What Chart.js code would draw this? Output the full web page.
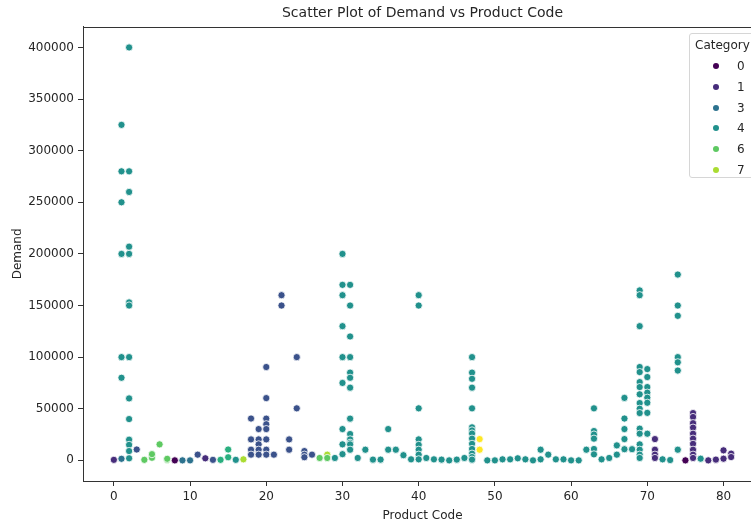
<!DOCTYPE html>
<html><head><meta charset="utf-8">
<script src="https://cdn.jsdelivr.net/npm/chart.js@4"></script>
<style>
html,body{margin:0;padding:0;background:#fff;overflow:hidden;}
#wrap{position:relative;width:751px;height:527px;overflow:hidden;}
#c{position:absolute;left:0;top:0;}
#legend{position:absolute;left:689px;top:33px;width:90px;height:143px;border:1px solid #d6d6d6;border-radius:3px;background:rgba(255,255,255,0.85);font-family:"DejaVu Sans";font-size:12px;color:#262626;}
#legend .t{position:absolute;left:5px;top:4px;line-height:14px;white-space:nowrap;}
#legend .it{position:absolute;left:0;height:14px;line-height:14px;width:90px;}
#legend .d{position:absolute;left:23px;top:4px;width:6px;height:6px;border-radius:50%;}
#legend .l{position:absolute;left:47px;top:0;}
</style></head>
<body>
<div id="wrap"><canvas id="c" width="845" height="527"></canvas><div id="legend"></div></div>
<script>
const productCode = [
0,
1,1,1,1,1,1,1,
2,2,2,2,2,2,2,2,2,2,2,2,2,2,
3,4,5,5,6,7,7,8,9,10,11,12,13,14,15,15,16,17,
18,18,18,18,
19,19,19,19,19,
20,20,20,20,20,20,20,20,
21,22,22,23,23,24,24,25,25,25,26,27,28,28,29,
30,30,30,30,30,30,30,30,30,
31,31,31,31,31,31,31,31,31,31,31,31,31,
32,33,34,35,36,36,37,38,39,
40,40,40,40,40,40,40,40,
41,42,43,44,45,46,
47,47,47,47,47,47,47,47,47,47,47,47,47,47,
48,48,49,50,51,52,53,54,55,56,56,57,58,59,60,61,62,
63,63,63,63,63,63,
64,65,66,66,
67,67,67,67,67,
68,
69,69,69,69,69,69,69,69,69,69,69,69,69,69,69,69,69,
70,70,70,70,70,70,70,70,
71,71,71,71,
72,73,
74,74,74,74,74,74,74,
75,
76,76,76,76,76,76,76,76,76,76,
77,78,79,80,80,81,81
];
const demand = [
500,
325000,280000,250000,200000,100000,80000,1500,
400000,280000,260000,207000,200000,153000,150000,100000,60000,40000,20000,15000,9000,2000,
10500,500,2500,6000,15500,500,1500,0,0,0,5500,2000,500,500,3000,10500,500,1000,
40500,20300,10300,5500,
30300,20300,15500,10300,5500,
90400,60300,40400,35000,30300,20300,10300,5500,
5500,160000,150000,20300,10300,100000,50400,9000,5500,3000,5500,2300,5500,2300,2300,
200000,170000,160000,130000,100000,75000,30300,15500,6000,
170000,150000,120000,100000,85000,80000,70400,40400,25500,20300,17000,15500,10300,
2300,10300,700,700,30300,10300,10300,5000,1000,
160000,150000,50400,20300,15000,10300,5500,1000,
2300,1000,700,0,700,2300,
100000,85000,79000,70400,50400,32000,29000,26000,21000,16000,11000,6500,3200,700,
20600,10300,0,0,1000,1000,2000,1000,0,10300,1000,5500,1000,1000,0,0,10300,
50400,28400,25000,21000,11000,5800,
1000,2300,14500,5500,
60500,40500,30300,20600,10800,
10800,
164600,160000,130000,90400,85500,75800,71000,64000,55500,50000,45800,30700,25800,15500,10300,5500,2300,
88400,80700,71000,65600,60700,55800,46000,25800,
20600,10300,5500,2300,
1000,300,
180000,150000,140000,100000,95000,87000,10300,
0,
45800,42000,36000,31700,25800,21000,16000,10300,5500,2300,
1600,0,700,9700,1600,6500,3200
];
const category = [
1,
4,4,4,4,4,4,3,
4,4,4,4,4,4,4,4,4,4,4,4,4,4,
2,6,6,6,6,6,6,0,3,3,2,1,2,5,5,5,4,7,
2,2,2,2,
2,2,2,2,2,
2,2,2,2,2,2,2,2,
2,2,2,2,2,2,2,2,2,2,2,6,7,6,4,
4,4,4,4,4,4,4,4,4,
4,4,4,4,4,4,4,4,4,4,4,4,4,
4,4,4,4,4,4,4,4,4,
4,4,4,4,4,4,4,4,
4,4,4,4,4,4,
4,4,4,4,4,4,4,4,4,4,4,4,4,4,
8,8,4,4,4,4,4,4,4,4,4,4,4,4,4,4,4,
4,4,4,4,4,4,
4,4,4,4,
4,4,4,4,4,
4,
4,4,4,4,4,4,4,4,4,4,4,4,4,4,4,4,4,
4,4,4,4,4,4,4,4,
1,1,1,1,
4,4,
4,4,4,4,4,4,4,
0,
1,1,1,1,1,1,1,1,1,1,
4,1,1,1,1,1,1
];
const categories = [0,1,2,3,4,5,6,7,8];
const categoryColors = ['#440154','#472d7b','#3b528b','#2c728e','#21918c','#29af7f','#5ec962','#aadc32','#fde725'];
const legendCategories = [0,1,3,4,6,7];
const xTicks = [0,10,20,30,40,50,60,70,80];
const yTicks = [0,50000,100000,150000,200000,250000,300000,350000,400000];

const FONT = 'DejaVu Sans';
const TXT = '#262626';

const datasets = categories.map((c, ci) => ({
  label: String(c),
  data: productCode.map((x, i) => ({x: x, y: demand[i], c: category[i]})).filter(p => p.c === c),
  backgroundColor: categoryColors[ci],
  borderColor: '#ffffff',
  borderWidth: 0.8,
  pointRadius: 3.6,
  pointHoverRadius: 3.6
}));

const frame = {
  id: 'frame',
  afterDraw(chart) {
    const {ctx, chartArea: a} = chart;
    ctx.save();
    ctx.strokeStyle = '#333';
    ctx.lineWidth = 1;
    ctx.strokeRect(Math.round(a.left) + 0.5, Math.round(a.top) + 0.5, Math.round(a.right - a.left), Math.round(a.bottom - a.top));
    ctx.restore();
  }
};

new Chart(document.getElementById('c'), {
  type: 'scatter',
  data: {datasets},
  options: {
    responsive: false,
    animation: false,
    devicePixelRatio: 1,
    layout: {padding: 0},
    plugins: {
      legend: {display: false},
      tooltip: {enabled: false},
      title: {display: true, text: 'Scatter Plot of Demand vs Product Code', color: TXT,
        font: {family: FONT, size: 14, weight: 'normal'}, padding: {top: 5, bottom: 5}}
    },
    scales: {
      x: {
        type: 'linear', min: -4.05, max: 85.05,
        afterBuildTicks: s => { s.ticks = xTicks.map(v => ({value: v})); },
        afterFit: s => { s.height = 46; },
        ticks: {color: TXT, font: {family: FONT, size: 12}, padding: 4, maxRotation: 0, callback: v => String(v)},
        grid: {display: true, drawOnChartArea: false, drawTicks: true, tickLength: 5, color: '#333'},
        border: {display: true, color: '#333', width: 1},
        title: {display: true, text: 'Product Code', color: TXT, font: {family: FONT, size: 12}, padding: {top: 0, bottom: 4}}
      },
      y: {
        type: 'linear', min: -20000, max: 420000,
        afterBuildTicks: s => { s.ticks = yTicks.map(v => ({value: v})); },
        afterFit: s => { s.width = 83; },
        ticks: {color: TXT, font: {family: FONT, size: 12}, padding: 4, callback: v => String(v)},
        grid: {display: true, drawOnChartArea: false, drawTicks: true, tickLength: 5, color: '#333'},
        border: {display: true, color: '#333', width: 1},
        title: {display: true, text: 'Demand', color: TXT, font: {family: FONT, size: 12}, padding: {top: 11, bottom: 0}}
      },
      yRight: {
        type: 'linear', position: 'right', display: true,
        afterFit: s => { s.width = 83; },
        ticks: {display: false},
        grid: {display: false, drawTicks: false},
        border: {display: false}
      }
    }
  },
  plugins: [frame]
});

// legend (HTML, real text)
const lg = document.getElementById('legend');
const t = document.createElement('div'); t.className = 't'; t.textContent = 'Category'; lg.appendChild(t);
legendCategories.forEach((c, i) => {
  const it = document.createElement('div'); it.className = 'it';
  it.style.top = (25 + i * 20.8) + 'px';
  const d = document.createElement('span'); d.className = 'd'; d.style.background = categoryColors[categories.indexOf(c)];
  const l = document.createElement('span'); l.className = 'l'; l.textContent = String(c);
  it.appendChild(d); it.appendChild(l); lg.appendChild(it);
});
</script>
</body></html>
